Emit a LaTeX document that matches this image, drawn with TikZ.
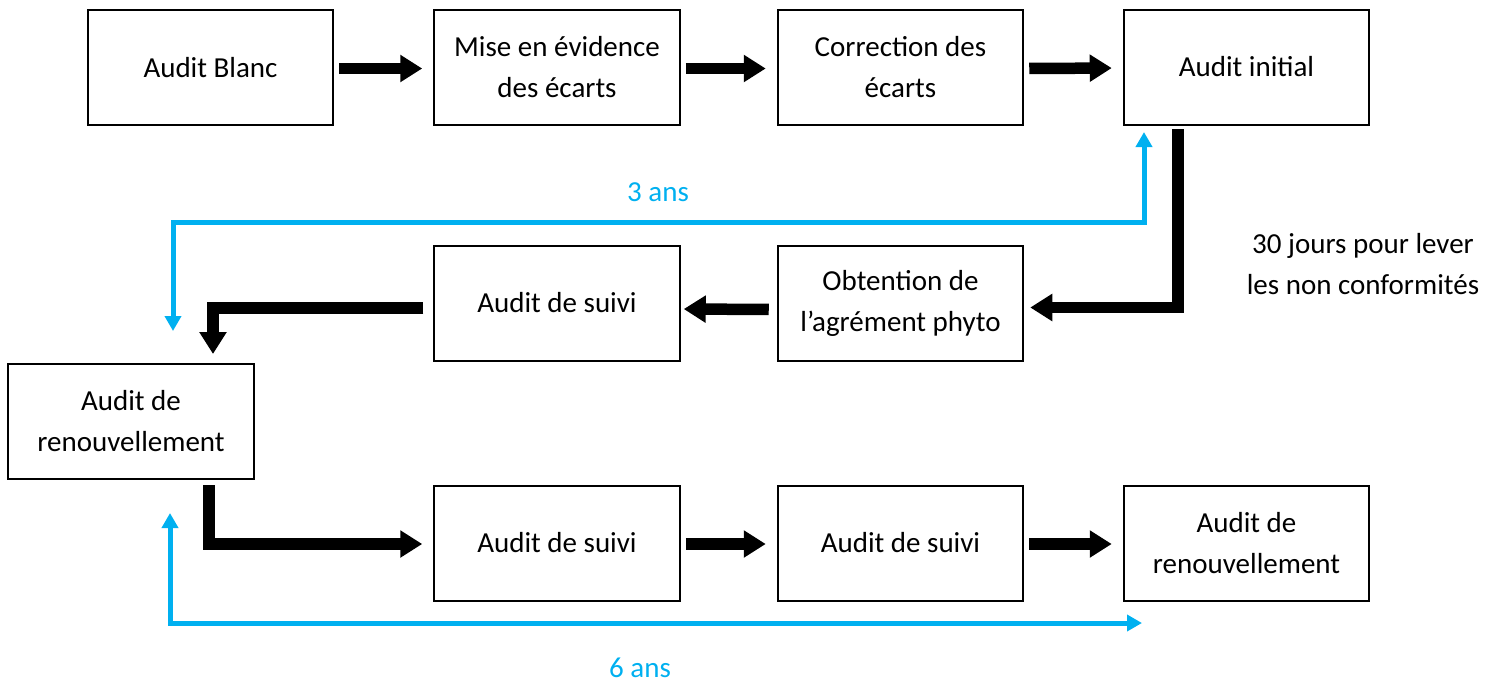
\documentclass[tikz,border=0pt]{standalone}
\usepackage{fontspec}
\setmainfont{Carlito}
\usetikzlibrary{arrows.meta}
\definecolor{skyb}{RGB}{0,176,240}
\begin{document}
\begin{tikzpicture}[x=0.5pt,y=-0.5pt,
  box/.style={draw=black,line width=1pt,minimum width=122.75pt,minimum height=57.5pt,inner sep=0pt,align=center,font=\fontsize{14.5}{20.5}\selectfont},
  bk/.style={line width=5.75pt,-{Triangle[length=11pt,width=13pt]}},
  bl/.style={skyb,line width=2.5pt,{Triangle[length=7.5pt,width=8pt]}-{Triangle[length=7.5pt,width=8pt]}},
  lbl/.style={font=\fontsize{14.5}{20.5}\selectfont,align=center}]
\useasboundingbox (0,0) rectangle (1496,682);
% boxes
\node[box] (b1) at (210.5,67.5) {Audit Blanc};
\node[box] (b2) at (557,67.5) {Mise en évidence\\des écarts};
\node[box] (b3) at (900.5,67.5) {Correction des\\écarts};
\node[box] (b4) at (1246.5,67) {Audit initial};
\node[box] (m1) at (557,303) {Audit de suivi};
\node[box] (m2) at (900.5,303.5) {Obtention de\\l’agrément phyto};
\node[box] (r1) at (131,421.5) {Audit de\\renouvellement};
\node[box] (c1) at (557,543) {Audit de suivi};
\node[box] (c2) at (900.5,543) {Audit de suivi};
\node[box] (c3) at (1246.5,543) {Audit de\\renouvellement};
% labels
\node[lbl,text=skyb] (l3) at (658,192) {3 ans};
\node[lbl,text=skyb] (l6) at (640,668) {6 ans};
\node[lbl] (l30) at (1363,264) {30 jours pour lever\\les non conformités};
% black arrows
\foreach \a/\b in {b1/b2,b2/b3,b3/b4,c1/c2,c2/c3}
  \draw[bk,shorten <=2.5pt,shorten >=5.5pt] ([yshift=-0.5pt]\a.east) -- ([yshift=-0.5pt]\b.west);
\draw[bk,shorten <=1.75pt,shorten >=3pt] ([xshift=-34.25pt]b4.south) |- ([yshift=-2pt]m2.east);
\draw[bk,shorten <=4pt,shorten >=1.5pt] ([yshift=-3pt]m2.west) -- ([yshift=-3pt]m1.east);
\draw[bk,shorten <=5pt,shorten >=4.5pt] ([yshift=-2.5pt]m1.west) -| ([xshift=41pt]r1.north);
\draw[bk,shorten <=2.5pt,shorten >=5.5pt] ([xshift=39pt]r1.south) |- ([yshift=-0.5pt]c1.west);
% blue arrows
\coordinate (t3) at (660,222);
\coordinate (t6) at (640,623);
\coordinate (e6) at (1142,623);
\draw[bl,shorten <=3.25pt,shorten >=16pt] ([xshift=-51.25pt]b4.south) |- (t3) -| ([xshift=21pt]r1.north);
\draw[bl,shorten <=16.5pt] ([xshift=19.5pt]r1.south) |- (e6);
\end{tikzpicture}
\end{document}
